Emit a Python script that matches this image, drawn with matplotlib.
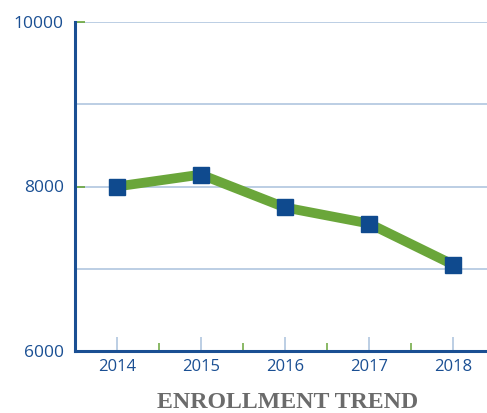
import matplotlib.pyplot as plt
import numpy as np

years = ['2014', '2015', '2016', '2017', '2018']
enrollment = [8000, 8145, 7745, 7550, 7050]
y_labels = [6000, 8000, 10000]
grid_levels = [7000, 8000, 9000, 10000]
title = 'ENROLLMENT TREND'

navy = '#1a4f93'
green = '#6aa63a'
grid_col = '#a9c1dc'

fig = plt.figure(figsize=(4.87, 4.13), dpi=100)
ax = fig.add_axes([75 / 487, 1 - 351 / 413, 420 / 487, 329 / 413])

x = np.arange(len(years))
for g in grid_levels:
    ax.axhline(g, color=grid_col, lw=1.1, zorder=1)

ax.plot(x, enrollment, color=green, lw=7, zorder=3, solid_joinstyle='miter')
ax.plot(x, enrollment, ls='none', marker='s', ms=11, color='#0f4a8e', zorder=4)

ax.set_xlim(-0.5, len(years) - 0.5)
ax.set_ylim(6000, 10000)

ax.set_xticks(x)
ax.set_xticklabels(years)
ax.set_xticks(x[:-1] + 0.5, minor=True)
ax.tick_params(axis='x', which='major', direction='in', length=10, width=1.1,
               color=grid_col, labelcolor=navy, labelsize=12, pad=6)
ax.tick_params(axis='x', which='minor', direction='in', length=6, width=1.1,
               color=green)

ax.set_yticks(y_labels)
ax.tick_params(axis='y', which='major', direction='in', length=7, width=1.2,
               color=green, labelcolor=navy, labelsize=12.5, pad=8)

for lbl in ax.get_xticklabels() + ax.get_yticklabels():
    lbl.set_family(['Open Sans', 'DejaVu Sans'])

for s in ['top', 'right']:
    ax.spines[s].set_visible(False)
ax.spines['left'].set_color(navy)
ax.spines['left'].set_linewidth(2.2)
ax.spines['bottom'].set_color(navy)
ax.spines['bottom'].set_linewidth(2.2)

fig.text(288 / 487, 1 - 403 / 413, title, ha='center', va='center',
         family='Liberation Serif', fontweight='bold', fontsize=17.2,
         color='#6b6b6b')

fig.savefig('out.png', dpi=100)
